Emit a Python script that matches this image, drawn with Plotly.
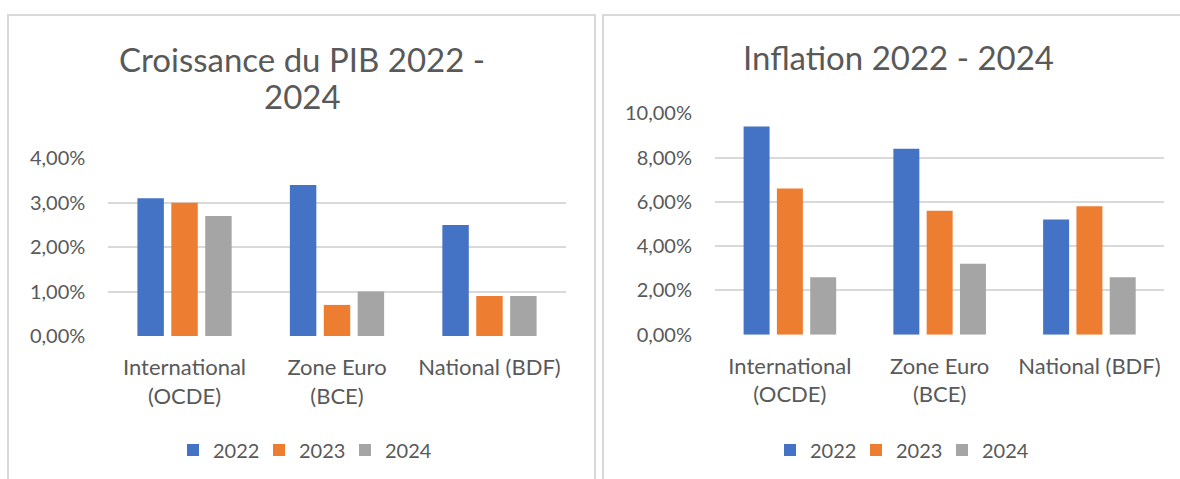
import plotly.graph_objects as go

W, H = 1180, 479

categories = ["International<br>(OCDE)", "Zone Euro<br>(BCE)", "National (BDF)"]
years = ["2022", "2023", "2024"]
colors = ["#4472C4", "#ED7D31", "#A5A5A5"]

pib_2022 = [0.031, 0.034, 0.025]
pib_2023 = [0.030, 0.007, 0.009]
pib_2024 = [0.027, 0.010, 0.009]

inf_2022 = [0.094, 0.084, 0.052]
inf_2023 = [0.066, 0.056, 0.058]
inf_2024 = [0.026, 0.032, 0.026]

pib_title_l1 = "Croissance du PIB 2022 -"
pib_title_l2 = "2024"
inf_title = "Inflation 2022 - 2024"

pib_ticks = [0, 0.01, 0.02, 0.03, 0.04]
inf_ticks = [0, 0.02, 0.04, 0.06, 0.08, 0.10]

FONT = "Lato"
TXT = "#595959"
GRID = "#D9D9D9"


def px_x(x):
    return x / W


def px_y(y):
    return 1 - y / H


fig = go.Figure()

for yr, col, vals in zip(years, colors, [pib_2022, pib_2023, pib_2024]):
    fig.add_trace(go.Bar(x=categories, y=vals, name=yr, marker=dict(color=col, line=dict(width=0)),
                         xaxis="x", yaxis="y", legend="legend"))
for yr, col, vals in zip(years, colors, [inf_2022, inf_2023, inf_2024]):
    fig.add_trace(go.Bar(x=categories, y=vals, name=yr, marker=dict(color=col, line=dict(width=0)),
                         xaxis="x2", yaxis="y2", legend="legend2"))

ytick = dict(family=FONT, size=20, color=TXT)
xtick = dict(family=FONT, size=22, color=TXT)
base = dict(showline=False, zeroline=False, ticks="", automargin=False)

fig.update_layout(
    width=W, height=H,
    margin=dict(l=0, r=0, t=0, b=0, pad=0, autoexpand=False),
    paper_bgcolor="white", plot_bgcolor="white",
    separators=", ",
    barmode="group", bargap=0.333, bargroupgap=0.22,
    font=dict(family=FONT, color=TXT),
    xaxis=dict(domain=[px_x(108.3), px_x(565.7)], anchor="y", showgrid=False,
               ticklabelstandoff=16, tickfont=xtick, **base),
    yaxis=dict(domain=[px_y(336), px_y(158.3)], anchor="x", range=[0, 0.04],
               tickvals=pib_ticks, tickformat=".2%", showgrid=True, gridcolor=GRID, gridwidth=1.6,
               ticklabelstandoff=22, tickfont=ytick, **base),
    xaxis2=dict(domain=[px_x(715), px_x(1164.3)], anchor="y2", showgrid=False,
                ticklabelstandoff=16, tickfont=xtick, **base),
    yaxis2=dict(domain=[px_y(334.7), px_y(113.3)], anchor="x2", range=[0, 0.10],
                tickvals=inf_ticks, tickformat=".2%", showgrid=True, gridcolor=GRID, gridwidth=1.6,
                ticklabelstandoff=22, tickfont=ytick, **base),
    legend=dict(orientation="h", x=px_x(302), xanchor="center", y=px_y(450), yanchor="middle",
                entrywidth=41, entrywidthmode="pixels",
                font=dict(family=FONT, size=20, color=TXT), bgcolor="rgba(0,0,0,0)"),
    legend2=dict(orientation="h", x=px_x(899), xanchor="center", y=px_y(450), yanchor="middle",
                 entrywidth=41, entrywidthmode="pixels",
                 font=dict(family=FONT, size=20, color=TXT), bgcolor="rgba(0,0,0,0)"),
    shapes=[
        dict(type="rect", xref="paper", yref="paper", x0=px_x(8), x1=px_x(595), y0=-0.1, y1=px_y(15),
             line=dict(color=GRID, width=2), fillcolor="rgba(0,0,0,0)", layer="below"),
        dict(type="rect", xref="paper", yref="paper", x0=px_x(603), x1=1.1, y0=-0.1, y1=px_y(15),
             line=dict(color=GRID, width=2), fillcolor="rgba(0,0,0,0)", layer="below"),
    ],
    annotations=[
        dict(text=pib_title_l1, xref="paper", yref="paper", x=px_x(302), y=px_y(58.5),
             xanchor="center", yanchor="middle", showarrow=False,
             font=dict(family=FONT, size=33, color=TXT)),
        dict(text=pib_title_l2, xref="paper", yref="paper", x=px_x(302), y=px_y(96.5),
             xanchor="center", yanchor="middle", showarrow=False,
             font=dict(family=FONT, size=33, color=TXT)),
        dict(text=inf_title, xref="paper", yref="paper", x=px_x(898), y=px_y(57),
             xanchor="center", yanchor="middle", showarrow=False,
             font=dict(family=FONT, size=33, color=TXT)),
    ],
)

fig.write_html("out.html",
               config={"displayModeBar": False},
               post_script="document.body.style.margin='0';document.body.style.overflow='hidden';")
